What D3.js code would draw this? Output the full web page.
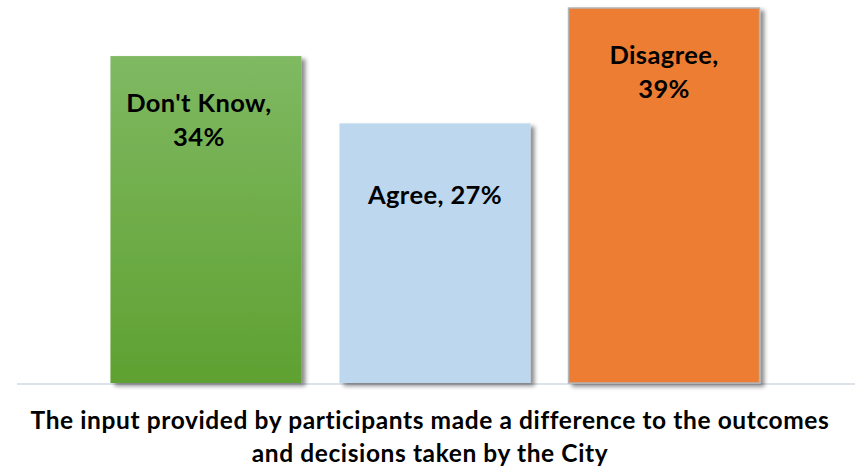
<!DOCTYPE html>
<html>
<head>
<meta charset="utf-8">
<script src="https://cdn.jsdelivr.net/npm/d3@7/dist/d3.min.js"></script>
<style>
  html, body { margin: 0; padding: 0; background: #ffffff; }
  svg { display: block; }
  text { font-family: Lato, "Open Sans", sans-serif; font-weight: bold; fill: #000; }
</style>
</head>
<body>
<svg id="chart" width="855" height="469"></svg>
<script>
const categories = ["Don't Know", "Agree", "Disagree"];
const values = [34, 27, 39];
const labelLines = [["Don't Know,", "34%"], ["Agree, 27%"], ["Disagree,", "39%"]];
const titleLines = [
  "The input provided by participants made a difference to the outcomes",
  "and decisions taken by the City"
];

const W = 855, H = 469;
const svg = d3.select("#chart");

const x = d3.scaleBand()
  .domain(categories)
  .range([17, 853])
  .paddingInner(0.166)
  .paddingOuter(0.408);

const y = d3.scaleLinear().domain([0, 39]).range([383, 8]);

const defs = svg.append("defs");
const f = defs.append("filter").attr("id", "shadow")
  .attr("x", "-10%").attr("y", "-10%").attr("width", "130%").attr("height", "130%");
f.append("feDropShadow").attr("dx", 4).attr("dy", 3).attr("stdDeviation", 2.2)
  .attr("flood-color", "#000").attr("flood-opacity", 0.45);

const g = defs.append("linearGradient").attr("id", "greenGrad")
  .attr("x1", 0).attr("y1", 0).attr("x2", 0).attr("y2", 1);
g.append("stop").attr("offset", "0%").attr("stop-color", "#7fb962");
g.append("stop").attr("offset", "100%").attr("stop-color", "#5fa131");

const fills = ["url(#greenGrad)", "#bdd7ee", "#ed7d31"];
const strokes = ["none", "none", "#b4b4b4"];

// baseline
svg.append("line")
  .attr("x1", 17).attr("x2", 855)
  .attr("y1", y(0) + 1).attr("y2", y(0) + 1)
  .attr("stroke", "#dde3ea").attr("stroke-width", 2);

// bars
svg.append("g").selectAll("rect")
  .data(values)
  .join("rect")
  .attr("x", (d, i) => x(categories[i]))
  .attr("y", d => y(d))
  .attr("width", x.bandwidth())
  .attr("height", d => y(0) - y(d))
  .attr("fill", (d, i) => fills[i])
  .attr("stroke", (d, i) => strokes[i])
  .attr("stroke-width", 1.5)
  .attr("filter", "url(#shadow)");

// labels
const labelDx = [-7, 0, 0];
const lg = svg.append("g");
values.forEach((v, i) => {
  const lines = labelLines[i];
  const cx = x(categories[i]) + x.bandwidth() / 2 + labelDx[i];
  const firstBase = y(v) + (lines.length === 2 ? 56 : 81);
  const t = lg.append("text")
    .attr("text-anchor", "middle")
    .attr("font-size", 25.5)
    .attr("letter-spacing", 0.4);
  lines.forEach((ln, k) => {
    t.append("tspan").attr("x", cx).attr("y", firstBase + k * 33.5).text(ln);
  });
});

// title
const tt = svg.append("text")
  .attr("text-anchor", "middle")
  .attr("font-size", 24.5)
  .attr("letter-spacing", 0.6);
titleLines.forEach((ln, k) => {
  tt.append("tspan").attr("x", 430).attr("y", 429 + k * 33).text(ln);
});
</script>
</body>
</html>
